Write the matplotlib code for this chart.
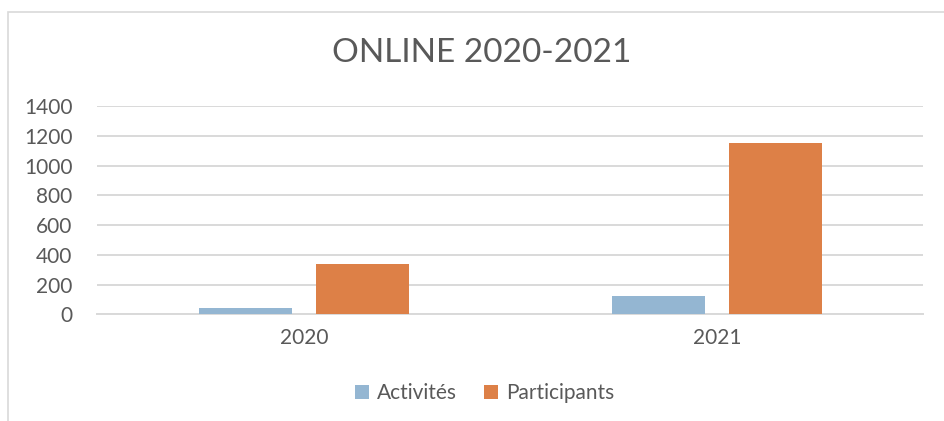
import numpy as np
import matplotlib.pyplot as plt
from matplotlib.patches import Rectangle

# data
years = ["2020", "2021"]
activites = [40, 121]
participants = [337, 1148]
yticks = [0, 200, 400, 600, 800, 1000, 1200, 1400]

blue = "#94b6d2"
orange = "#dd8047"
grey_txt = "#595959"
grid_col = "#d9d9d9"

plt.rcParams['font.family'] = ['Lato', 'DejaVu Sans']

fig = plt.figure(figsize=(9.45, 4.21), dpi=100)
ax = fig.add_axes([97.5 / 945, 106.7 / 421, 826 / 945, 208.3 / 421])

x = np.arange(len(years))
w = 0.225
off = 0.142
ax.bar(x - off, activites, width=w, color=blue, label="Activités", zorder=3)
ax.bar(x + off, participants, width=w, color=orange, label="Participants", zorder=3)

ax.set_xlim(-0.5, 1.5)
ax.set_ylim(0, 1400)
ax.set_yticks(yticks)
ax.set_xticks(x)
ax.set_xticklabels(years)
ax.tick_params(axis='both', length=0, labelsize=15, colors=grey_txt)
ax.tick_params(axis='y', pad=18)
ax.tick_params(axis='x', pad=10)
ax.yaxis.grid(True, color=grid_col, linewidth=1.4, zorder=0)
for s in ["top", "right", "left"]:
    ax.spines[s].set_visible(False)
ax.spines["bottom"].set_color(grid_col)
ax.spines["bottom"].set_linewidth(1.4)

fig.text(482 / 945, 1 - 53 / 421, "ONLINE 2020-2021", ha="center", va="center",
         fontsize=24, color=grey_txt)

fig.legend(loc="center", bbox_to_anchor=(485 / 945, 1 - 393 / 421), ncol=2,
           frameon=False, fontsize=15, labelcolor=grey_txt, handlelength=0.65,
           handleheight=0.65, handletextpad=0.4, columnspacing=1.3)

# chart border
fig.patches.append(Rectangle((8 / 945, -0.1), 1.0, 1 - 12 / 421 + 0.1,
                             transform=fig.transFigure, fill=False,
                             edgecolor=grid_col, linewidth=1.2))

fig.savefig("out.png", dpi=100)
